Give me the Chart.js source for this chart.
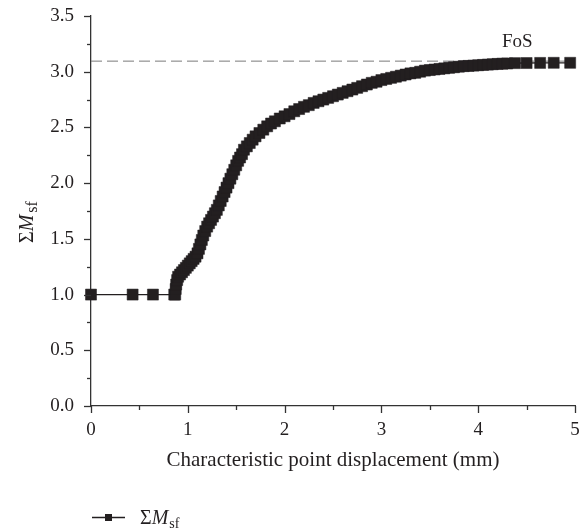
<!DOCTYPE html>
<html>
<head>
<meta charset="utf-8">
<script src="https://cdn.jsdelivr.net/npm/chart.js@4"></script>
<style>
html,body{margin:0;padding:0;background:#fff;}
canvas{display:block;}
</style>
</head>
<body>
<canvas id="c" width="579" height="531"></canvas>
<script>
// Data
const dispX = [0, 0.43, 0.64, 0.86, 0.87, 0.875, 0.88, 0.89, 0.90, 0.92, 0.94, 0.96, 0.98, 1.00, 1.02, 1.04, 1.06, 1.08, 1.10, 1.115, 1.13, 1.145, 1.16, 1.18, 1.20, 1.22, 1.24, 1.26, 1.28, 1.30, 1.32, 1.34, 1.36, 1.38, 1.40, 1.42, 1.44, 1.46, 1.48, 1.50, 1.52, 1.54, 1.56, 1.58, 1.61, 1.64, 1.67, 1.70, 1.74, 1.78, 1.82, 1.86, 1.90, 1.95, 2.00, 2.05, 2.10, 2.15, 2.20, 2.25, 2.30, 2.35, 2.40, 2.45, 2.50, 2.55, 2.60, 2.65, 2.70, 2.75, 2.80, 2.85, 2.90, 2.95, 3.00, 3.05, 3.10, 3.15, 3.20, 3.25, 3.30, 3.35, 3.40, 3.45, 3.50, 3.55, 3.60, 3.65, 3.70, 3.75, 3.80, 3.85, 3.90, 3.95, 4.00, 4.05, 4.10, 4.15, 4.20, 4.25, 4.30, 4.38, 4.50, 4.64, 4.78, 4.95];
const sumMsf = [1.00, 1.00, 1.00, 1.00, 1.00, 1.05, 1.09, 1.13, 1.16, 1.18, 1.20, 1.22, 1.24, 1.26, 1.28, 1.30, 1.32, 1.34, 1.37, 1.41, 1.45, 1.49, 1.53, 1.57, 1.61, 1.64, 1.67, 1.70, 1.73, 1.76, 1.80, 1.84, 1.88, 1.92, 1.96, 2.00, 2.04, 2.08, 2.12, 2.16, 2.20, 2.23, 2.26, 2.30, 2.33, 2.36, 2.39, 2.42, 2.45, 2.48, 2.51, 2.535, 2.555, 2.58, 2.60, 2.62, 2.645, 2.665, 2.685, 2.70, 2.72, 2.735, 2.75, 2.765, 2.78, 2.795, 2.81, 2.825, 2.84, 2.855, 2.87, 2.885, 2.90, 2.91, 2.925, 2.935, 2.945, 2.955, 2.965, 2.975, 2.985, 2.99, 3.00, 3.01, 3.015, 3.02, 3.025, 3.03, 3.035, 3.04, 3.045, 3.05, 3.052, 3.055, 3.058, 3.061, 3.064, 3.067, 3.07, 3.072, 3.074, 3.077, 3.078, 3.079, 3.08, 3.08];
const fosX = [0, 5];
const fosY = [3.095, 3.095];
const xTickValues = [0, 1, 2, 3, 4, 5];
const yTickValues = [0, 0.5, 1, 1.5, 2, 2.5, 3, 3.5];

const INK = '#231f20';
const SERIF = '"Liberation Serif", "DejaVu Serif", serif';

const seriesData = dispX.map((x, i) => ({x: x, y: sumMsf[i]}));
const fosData = fosX.map((x, i) => ({x: x, y: fosY[i]}));

const decor = {
  id: 'decor',
  afterDraw(chart) {
    const ctx = chart.ctx;
    const xs = chart.scales.x, ys = chart.scales.y;
    const x0 = xs.left, y0 = ys.bottom;
    ctx.save();
    ctx.strokeStyle = '#333';
    ctx.lineWidth = 1.3;
    for (let v = 0; v <= 3.5001; v += 0.25) {
      const major = Math.abs(v * 2 - Math.round(v * 2)) < 1e-6;
      const py = Math.round(ys.getPixelForValue(v)) + 0.5;
      ctx.beginPath();
      ctx.moveTo(x0, py);
      ctx.lineTo(x0 - (major ? 7 : 4), py);
      ctx.stroke();
    }
    for (let v = 0; v <= 5.0001; v += 0.5) {
      const major = Math.abs(v - Math.round(v)) < 1e-6;
      const px = Math.round(xs.getPixelForValue(v)) + 0.5;
      ctx.beginPath();
      ctx.moveTo(px, y0);
      ctx.lineTo(px, y0 + (major ? 7 : 4));
      ctx.stroke();
    }
    ctx.fillStyle = INK;
    // y-axis title: ΣM_sf rotated
    ctx.save();
    ctx.translate(33, 222);
    ctx.rotate(-Math.PI / 2);
    ctx.textBaseline = 'alphabetic';
    ctx.textAlign = 'left';
    ctx.font = '20px ' + SERIF;
    const w1 = ctx.measureText('\u03A3').width;
    ctx.font = 'italic 20px ' + SERIF;
    const w2 = ctx.measureText('M').width;
    ctx.font = '16px ' + SERIF;
    const w3 = ctx.measureText('sf').width;
    let sx = -(w1 + w2 + w3 + 2) / 2;
    ctx.font = '20px ' + SERIF;
    ctx.fillText('\u03A3', sx, 0); sx += w1;
    ctx.font = 'italic 20px ' + SERIF;
    ctx.fillText('M', sx, 0); sx += w2 + 2;
    ctx.font = '16px ' + SERIF;
    ctx.fillText('sf', sx, 4);
    ctx.restore();
    // FoS label
    ctx.font = '19px ' + SERIF;
    ctx.textAlign = 'left';
    ctx.textBaseline = 'alphabetic';
    ctx.fillText('FoS', 502, 47);
    // legend
    ctx.strokeStyle = INK;
    ctx.lineWidth = 1.3;
    ctx.beginPath();
    ctx.moveTo(92, 517.5);
    ctx.lineTo(125, 517.5);
    ctx.stroke();
    ctx.fillRect(105, 514, 7, 7);
    ctx.font = '20px ' + SERIF;
    ctx.fillText('\u03A3', 140, 524);
    const lw1 = ctx.measureText('\u03A3').width;
    ctx.font = 'italic 20px ' + SERIF;
    ctx.fillText('M', 140 + lw1, 524);
    const lw2 = ctx.measureText('M').width;
    ctx.font = '14px ' + SERIF;
    ctx.fillText('sf', 140 + lw1 + lw2 + 1, 528);
    ctx.restore();
  }
};

new Chart(document.getElementById('c'), {
  type: 'scatter',
  data: {
    datasets: [
      {
        label: '\u03A3Msf',
        data: seriesData,
        showLine: true,
        clip: false,
        borderColor: INK,
        backgroundColor: INK,
        borderWidth: 1.3,
        pointStyle: 'rect',
        pointRadius: 7.8,
        pointBorderWidth: 0.5,
        pointBorderColor: INK,
        pointBackgroundColor: INK,
        tension: 0
      },
      {
        label: 'FoS',
        data: fosData,
        showLine: true,
        borderColor: '#7a7a7a',
        borderWidth: 1,
        borderDash: [11, 5],
        pointRadius: 0
      }
    ]
  },
  options: {
    responsive: false,
    animation: false,
    devicePixelRatio: 1,
    layout: {autoPadding: false, padding: {top: 16, right: 4, bottom: 45, left: 0}},
    plugins: {
      legend: {display: false},
      tooltip: {enabled: false}
    },
    scales: {
      x: {
        type: 'linear',
        min: 0,
        max: 5,
        afterFit(scale) { scale.height = 80; scale.paddingLeft = 0; scale.paddingRight = 0; },
        afterBuildTicks(scale) { scale.ticks = xTickValues.map(v => ({value: v})); },
        grid: {display: false, drawTicks: true, tickLength: 7},
        border: {display: true, color: '#333', width: 1.3},
        ticks: {
          color: INK,
          padding: 6,
          maxRotation: 0,
          font: {family: SERIF, size: 19},
          callback: v => String(v)
        },
        title: {
          display: true,
          text: 'Characteristic point displacement (mm)',
          color: INK,
          font: {family: SERIF, size: 21},
          padding: {top: 0, bottom: 13}
        }
      },
      y: {
        type: 'linear',
        min: 0,
        max: 3.5,
        afterFit(scale) { scale.width = 91; scale.paddingTop = 0; scale.paddingBottom = 0; },
        afterBuildTicks(scale) { scale.ticks = yTickValues.map(v => ({value: v})); },
        grid: {display: false, drawTicks: true, tickLength: 7},
        border: {display: true, color: '#333', width: 1.3},
        ticks: {
          color: INK,
          padding: 10,
          font: {family: SERIF, size: 19},
          callback: v => Number(v).toFixed(1)
        }
      }
    }
  },
  plugins: [decor]
});
</script>
</body>
</html>
